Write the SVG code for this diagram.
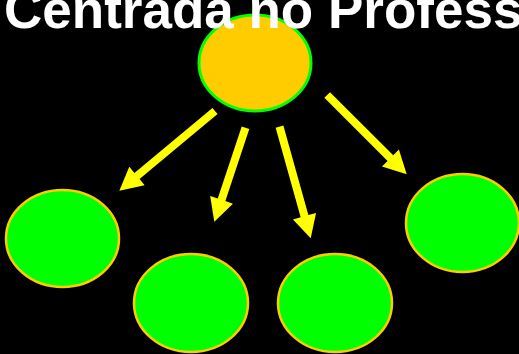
<svg xmlns="http://www.w3.org/2000/svg" width="519" height="354" viewBox="0 0 519 354">
  <style>
    .leaf { fill: #00FF00; stroke: #FFCC00; stroke-width: 2.5; }
    .root { fill: #FFCC00; stroke: #00FF00; stroke-width: 3; }
    .arrow { fill: #FFFF00; stroke: none; }
    .title { fill: #FFFFFF; font-family: "Liberation Sans", Arial, sans-serif; font-weight: bold; font-size: 53px; }
  </style>
  <rect x="0" y="0" width="519" height="354" fill="#000000"/>
  <g id="node-root">
    <ellipse class="root" cx="255" cy="63" rx="56" ry="48"/>
  </g>
  <g id="node-1">
    <ellipse class="leaf" cx="62.5" cy="238.5" rx="56.5" ry="48.5"/>
  </g>
  <g id="node-2">
    <ellipse class="leaf" cx="191" cy="303" rx="57" ry="49"/>
  </g>
  <g id="node-3">
    <ellipse class="leaf" cx="335" cy="303" rx="57" ry="49"/>
  </g>
  <g id="node-4">
    <ellipse class="leaf" cx="462.5" cy="223" rx="56.5" ry="49"/>
  </g>
  <g id="connectors">
    <polygon class="arrow" points="217.56,114.07 139.54,179.05 144.66,185.2 119.3,190.7 129.3,166.76 134.42,172.91 212.44,107.93"/>
    <polygon class="arrow" points="249.3,129.06 225.36,201.12 232.95,203.65 214.3,221.7 210.17,196.07 217.76,198.6 241.7,126.54"/>
    <polygon class="arrow" points="283.35,125.62 308.36,215.07 316.06,212.92 310.7,238.3 292.96,219.38 300.66,217.23 275.65,127.78"/>
    <polygon class="arrow" points="330.02,92.17 393.24,155.23 398.89,149.56 406.7,174.3 381.95,166.56 387.6,160.89 324.38,97.83"/>
  </g>
  <g id="title">
    <text class="title" x="4" y="28">Centrada no Profess</text>
  </g>
</svg>
